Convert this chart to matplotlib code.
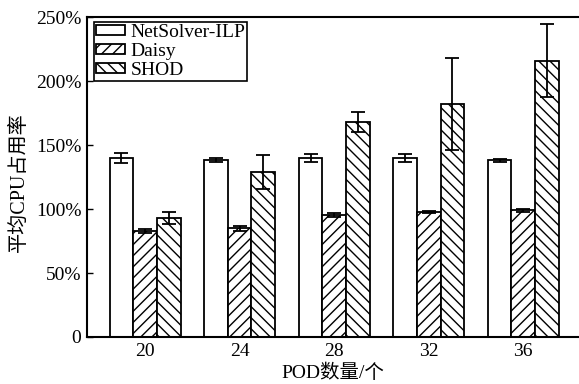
import matplotlib.pyplot as plt
import numpy as np

plt.rcParams['font.family'] = ['Liberation Serif', 'Noto Sans CJK SC']
plt.rcParams['hatch.linewidth'] = 1.0

pods = ['20', '24', '28', '32', '36']
netsolver = [140, 138, 140, 140, 138]
netsolver_err = [4, 1.5, 3, 3, 1]
daisy = [83, 85, 95, 97.5, 99]
daisy_err = [1.5, 2, 1.5, 0.8, 1]
shod = [93, 129, 168, 182, 216]
shod_err = [4.5, 13, 8, 36, 28.5]

x = np.arange(len(pods))
w = 0.25

fig = plt.figure(figsize=(5.79, 3.84), dpi=100)
ax = fig.add_axes([0.1503, 0.1224, 0.8497, 0.8333])

ekw = dict(ecolor='black', elinewidth=1.3, capsize=5, capthick=1.3)
ax.bar(x - w, netsolver, w, yerr=netsolver_err, color='white', edgecolor='black',
       linewidth=1.3, label='NetSolver-ILP', error_kw=ekw)
ax.bar(x, daisy, w, yerr=daisy_err, color='white', edgecolor='black',
       linewidth=1.3, hatch='///', label='Daisy', error_kw=ekw)
ax.bar(x + w, shod, w, yerr=shod_err, color='white', edgecolor='black',
       linewidth=1.3, hatch='\\\\\\', label='SHOD', error_kw=ekw)

ax.set_xlim(-0.614, 4.59)
ax.set_ylim(0, 250)
ax.set_xticks(x)
ax.set_xticklabels(pods)
ax.set_yticks([0, 50, 100, 150, 200, 250])
ax.set_yticklabels(['0', '50%', '100%', '150%', '200%', '250%'])
ax.tick_params(axis='y', direction='in', length=4, width=1, labelsize=14, pad=4)
ax.tick_params(axis='x', length=0, labelsize=14, pad=4)
for s in ['left', 'bottom', 'top']:
    ax.spines[s].set_linewidth(1.5)
ax.spines['right'].set_visible(False)

ax.set_xlabel('POD数量/个', fontsize=14, labelpad=3)
fig.text(0.033, 0.526, '平均CPU占用率', rotation=90, fontsize=14.5,
         ha='center', va='center')

leg = ax.legend(loc='upper left', bbox_to_anchor=(0.014, 0.985), fontsize=14,
                fancybox=False, framealpha=1, edgecolor='black',
                handlelength=1.5, handleheight=0.45, handletextpad=0.25,
                borderpad=0.12, labelspacing=0.1, borderaxespad=0)
leg.get_frame().set_linewidth(1.2)

fig.savefig('out.png', dpi=100)
